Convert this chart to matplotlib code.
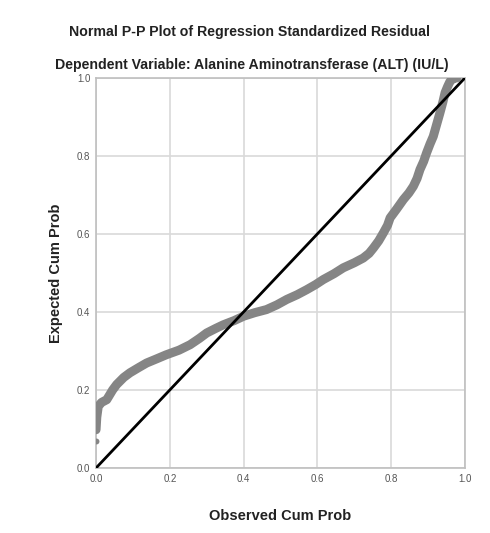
import matplotlib
matplotlib.use("Agg")
import matplotlib.pyplot as plt

title_lines = ["Normal P-P Plot of Regression Standardized Residual",
               "Dependent Variable: Alanine Aminotransferase (ALT) (IU/L)"]
xlabel = "Observed Cum Prob"
ylabel = "Expected Cum Prob"
ticks = [0.0, 0.2, 0.4, 0.6, 0.8, 1.0]
tick_labels = ["0.0", "0.2", "0.4", "0.6", "0.8", "1.0"]

observed = [0.000, 0.000, 0.002, 0.006, 0.015, 0.029, 0.045, 0.056, 0.075, 0.092,
            0.115, 0.137, 0.165, 0.190, 0.225, 0.255, 0.280, 0.300, 0.325, 0.345,
            0.375, 0.400, 0.430, 0.462, 0.490, 0.517, 0.545, 0.571, 0.595, 0.616,
            0.645, 0.670, 0.700, 0.724, 0.740, 0.752, 0.766, 0.779, 0.790, 0.797,
            0.815, 0.833, 0.848, 0.860, 0.870, 0.878, 0.888, 0.896, 0.905, 0.914,
            0.923, 0.932, 0.940, 0.946, 0.953, 0.959, 0.967, 0.978]
expected = [0.068, 0.098, 0.130, 0.158, 0.168, 0.175, 0.200, 0.214, 0.232, 0.244,
            0.257, 0.269, 0.280, 0.290, 0.302, 0.316, 0.332, 0.346, 0.358, 0.367,
            0.378, 0.389, 0.398, 0.406, 0.418, 0.432, 0.444, 0.457, 0.470, 0.483,
            0.498, 0.513, 0.526, 0.538, 0.550, 0.564, 0.582, 0.603, 0.622, 0.641,
            0.664, 0.688, 0.705, 0.722, 0.742, 0.765, 0.786, 0.808, 0.830, 0.850,
            0.880, 0.910, 0.938, 0.962, 0.978, 0.990, 0.998, 1.000]
diag = [0.0, 1.0]

plt.rcParams['font.family'] = ['Liberation Sans', 'DejaVu Sans']

fig = plt.figure(figsize=(4.9, 5.33), dpi=100)
ax = fig.add_axes([0.196, 0.122, 0.753, 0.732])

ax.plot(observed[1:], expected[1:], color="#858585", lw=6.5, solid_capstyle="round", zorder=3)
ax.scatter(observed[:1], expected[:1], s=18, color="#858585", zorder=3, lw=0)
ax.plot(diag, diag, color="black", lw=2.0, zorder=4)

ax.set_xlim(0, 1)
ax.set_ylim(0, 1)
ax.set_xticks(ticks)
ax.set_yticks(ticks)
ax.set_xticklabels(tick_labels)
ax.set_yticklabels(tick_labels)
ax.tick_params(length=0, labelsize=7, colors="#555555", pad=4)
ax.grid(True, color="#d9d9d9", lw=1.2)
ax.set_axisbelow(True)
for s in ax.spines.values():
    s.set_color("#bfbfbf")
    s.set_linewidth(1.2)

ax.set_xlabel(xlabel, fontsize=10.5, fontweight="bold", color="#222222", labelpad=18)
ax.set_ylabel(ylabel, fontsize=10.5, fontweight="bold", color="#222222", labelpad=10)

fig.text(0.51, 1 - 32/533, title_lines[0], ha="center", va="center",
         fontsize=10.2, fontweight="bold", color="#222222")
fig.text(0.514, 1 - 65/533, title_lines[1], ha="center", va="center",
         fontsize=10.2, fontweight="bold", color="#222222")

fig.savefig("out.png", dpi=100)
